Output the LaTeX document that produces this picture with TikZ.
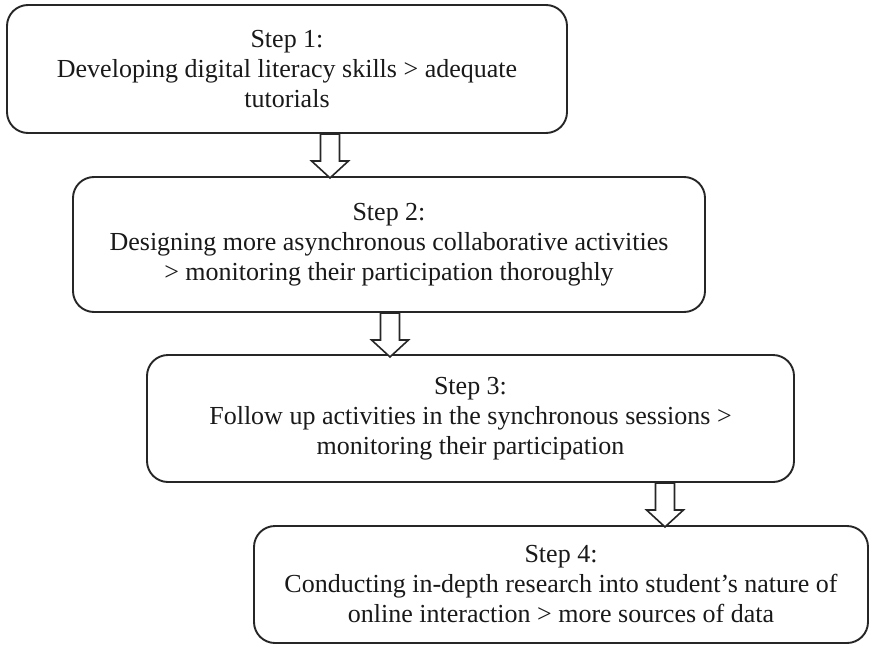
\documentclass[tikz,border=0pt]{standalone}
\usepackage{fontspec}
\setmainfont{Liberation Serif}
\begin{document}
\begin{tikzpicture}[x=1pt,y=-1pt,
  stepbox/.style={draw=black!85, line width=1.9pt, rounded corners=21pt,
    inner sep=0pt, align=center, text=black!90,
    font=\fontsize{26}{30}\selectfont},
  blockdown/.pic={
    \draw[fill=white, draw=black!85, line width=1.6pt, line join=miter]
      (-9.5,0) -- (9.5,0) -- (9.5,27) -- (18.5,27) -- (0,44)
      -- (-18.5,27) -- (-9.5,27) -- cycle;
  }]
\useasboundingbox (0,0) rectangle (870,645);

% the four steps
\node[stepbox, minimum width=560pt, minimum height=128pt] (s1) at (287,69)
  {Step 1:\\Developing digital literacy skills > adequate\\tutorials};
\node[stepbox, minimum width=632pt, minimum height=135pt] (s2) at (389,244.5)
  {Step 2:\\Designing more asynchronous collaborative activities\\> monitoring their participation thoroughly};
\node[stepbox, minimum width=647pt, minimum height=127pt] (s3) at (470.5,418.5)
  {Step 3:\\Follow up activities in the synchronous sessions >\\monitoring their participation};
\node[stepbox, minimum width=614pt, minimum height=117pt] (s4) at (561,584.5)
  {Step 4:\\Conducting in-depth research into student’s nature of\\online interaction > more sources of data};

% hollow block arrows from each step to the next
\coordinate (a1) at (s1.south -| 330,0);
\coordinate (a2) at (s2.south -| 390,0);
\coordinate (a3) at (s3.south -| 665,0);
\pic at (a1) {blockdown};
\pic at (a2) {blockdown};
\pic at (a3) {blockdown};
\end{tikzpicture}
\end{document}
